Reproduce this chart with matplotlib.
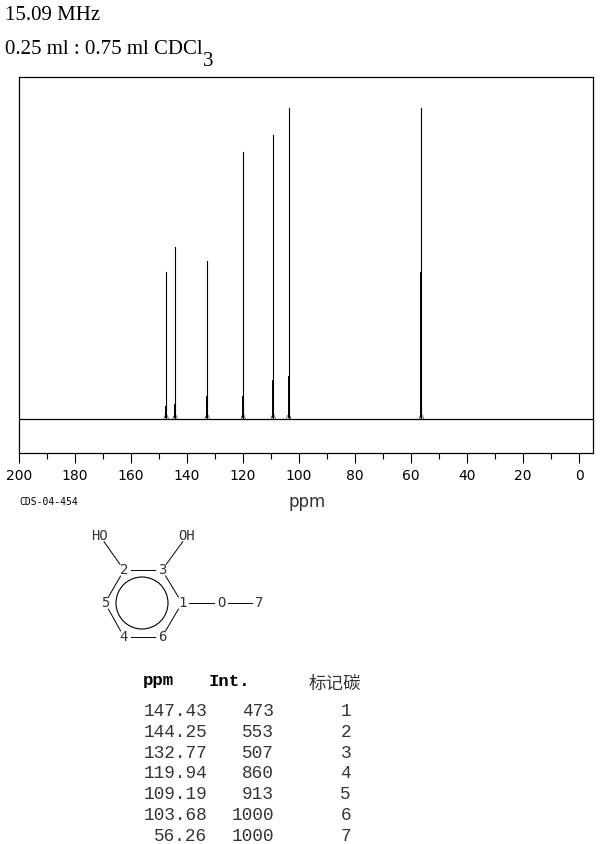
import numpy as np
import matplotlib
matplotlib.use('Agg')
import matplotlib.pyplot as plt

W = 609
H = 844

# peak table
ppm = [147.43, 144.25, 132.77, 119.94, 109.19, 103.68, 56.26]
intensity = [473, 553, 507, 860, 913, 1000, 1000]
labels = [1, 2, 3, 4, 5, 6, 7]
# height of the darker lower part of each peak
inner = [39, 45, 71, 71, 122, 135, 470]

ppm_text = ['147.43', '144.25', '132.77', '119.94', '109.19', '103.68', '56.26']
major_ticks = list(range(0, 201, 20))
minor_ticks = list(range(10, 200, 20))

# structure, pixel positions of the atoms
atoms = {'HO': (100, 536), 'OH': (187, 536), '2': (124, 570), '3': (162, 570),
		 '1': (182, 603), '5': (105, 603), '4': (124, 637), '6': (162, 637),
		 'O': (221, 603), '7': (259, 603)}
atom_text = {'HO': 'HO', 'OH': 'OH', '2': '2', '3': '3', '1': '1', '5': '5',
			 '4': '4', '6': '6', 'O': 'O', '7': '7'}
bonds = [('HO', '2'), ('OH', '3'), ('2', '3'), ('3', '1'), ('1', '6'),
		 ('6', '4'), ('4', '5'), ('5', '2'), ('1', 'O'), ('O', '7')]

fig = plt.figure(figsize=(W / 100, H / 100), dpi=100, facecolor='white')

#~~~~~~~~~~~~~~~~~~~~~
# spectrum
#~~~~~~~~~~~~~~~~~~~~~
ax = fig.add_axes([19 / W, 1 - 453 / H, 574 / W, 376 / H])
ax.set_xlim(200, -5)
ax.set_ylim(-109, 1100)

ax.axhline(0, color='black', lw=0.9)
for i in range(len(ppm)):
	p = ppm[i]
	# small foot at the base of the peak
	ax.plot([p + 0.8, p + 0.5, p], [0, 10, 14], color='#444444', lw=0.5)
	ax.plot([p - 0.8, p - 0.5, p], [0, 10, 14], color='#444444', lw=0.5)
	ax.plot([p, p], [0, intensity[i]], color='black', lw=0.8)
	ax.plot([p, p], [8, inner[i]], color='black', lw=1.4)

ax.set_xticks(major_ticks)
ax.set_xticks(minor_ticks, minor=True)
ax.set_yticks([])
ax.tick_params(axis='x', which='major', length=7.5, width=0.8, pad=4, labelsize=10)
ax.tick_params(axis='x', which='minor', length=4.3, width=0.8)
for s in ax.spines.values():
	s.set_linewidth(0.9)

#~~~~~~~~~~~~~~~~~~~~~
# overlay in pixels for all the page text
#~~~~~~~~~~~~~~~~~~~~~
page = fig.add_axes([0, 0, 1, 1])
page.set_xlim(0, W)
page.set_ylim(H, 0)
page.axis('off')
page.patch.set_alpha(0)

page.text(5, 16, '15.09 MHz', family='Liberation Serif', fontsize=15, va='center')
page.text(5, 49, '0.25 ml : 0.75 ml CDCl', family='Liberation Serif', fontsize=15, va='center')
page.text(203, 62, '3', family='Liberation Serif', fontsize=15, va='center')

page.text(307, 502, 'ppm', family='DejaVu Sans', fontsize=12, ha='center', va='center',
		  color='#333333')
page.text(19, 502, 'CDS-04-454', family='DejaVu Sans Mono', fontsize=7, va='center')

# molecule
for a, b in bonds:
	x0, y0 = atoms[a]
	x1, y1 = atoms[b]
	d = np.hypot(x1 - x0, y1 - y0)
	ux, uy = (x1 - x0) / d, (y1 - y0) / d
	gap = 7
	page.plot([x0 + ux * gap, x1 - ux * gap], [y0 + uy * gap, y1 - uy * gap],
			  color='black', lw=0.7)
page.add_patch(plt.Circle((142, 603), 26, fill=False, color='black', lw=0.8))
for k in atoms:
	x, y = atoms[k]
	page.text(x, y, atom_text[k], family='DejaVu Sans Mono', fontsize=10, ha='center', va='center',
			  color='#333333')

# table
mono = 'Liberation Mono'
page.text(143, 681, 'ppm', family=mono, fontsize=12.5, fontweight='bold', va='center')
page.text(209, 681, 'Int.', family=mono, fontsize=12.5, fontweight='bold', va='center')
page.text(309, 684, '标记碳', family='Noto Sans CJK SC', fontsize=12.6, va='center', color='#333333')
for i in range(len(ppm)):
	y = 711.5 + 20.8 * i
	page.text(207, y, ppm_text[i], family=mono, fontsize=12.8, ha='right', va='center', color='#333333')
	page.text(274, y, str(intensity[i]), family=mono, fontsize=12.8, ha='right', va='center', color='#333333')
	page.text(351, y, str(labels[i]), family=mono, fontsize=12.8, ha='right', va='center', color='#333333')

fig.savefig('out.png', dpi=100, facecolor='white')
